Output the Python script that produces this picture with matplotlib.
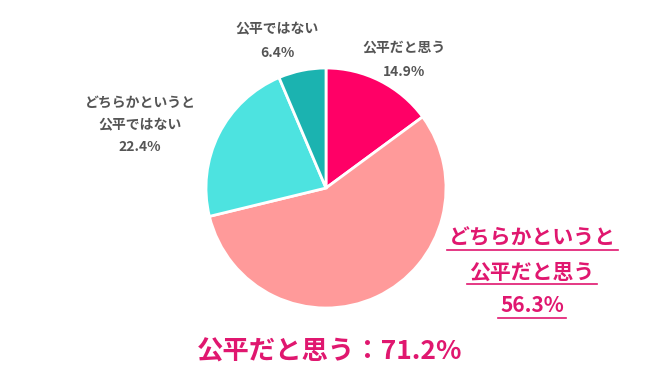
import matplotlib
matplotlib.use('Agg')
from matplotlib import pyplot as plt

plt.rcParams['font.family'] = ['Noto Sans CJK JP', 'DejaVu Sans']

# data
labels = ['公平だと思う', 'どちらかというと\n公平だと思う', 'どちらかというと\n公平ではない', '公平ではない']
values = [14.9, 56.3, 22.4, 6.4]
colors = ['#FF0066', '#FF9A9A', '#4DE3E0', '#1BB3B0']
summary = '公平だと思う：71.2%'

W, H = 650, 389
fig = plt.figure(figsize=(6.5, 3.89), dpi=100)
ax = fig.add_axes([0, 0, 1, 1])

ax.pie(values, colors=colors, startangle=90, counterclock=False,
       center=(326, H - 188), radius=120, frame=True,
       wedgeprops=dict(edgecolor='white', linewidth=2))
ax.set_xlim(0, W)
ax.set_ylim(0, H)
ax.set_aspect('equal')
ax.axis('off')

grey = '#555555'
pink = '#E0176F'

def pct(v):
    return '%.1f%%' % v

# small grey labels
fs = 10
ax.text(404, H - 48, labels[0], ha='center', va='center', fontsize=fs, fontweight='bold', color=grey)
ax.text(404, H - 72, pct(values[0]), ha='center', va='center', fontsize=fs, fontweight='bold', color=grey)
ax.text(277, H - 29, labels[3], ha='center', va='center', fontsize=fs, fontweight='bold', color=grey)
ax.text(277, H - 53, pct(values[3]), ha='center', va='center', fontsize=fs, fontweight='bold', color=grey)
for i, line in enumerate(labels[2].split('\n') + [pct(values[2])]):
    ax.text(140, H - (103 + 22 * i), line, ha='center', va='center', fontsize=fs, fontweight='bold', color=grey)

# highlighted label with underlines
big = []
for i, line in enumerate(labels[1].split('\n') + [pct(values[1])]):
    t = ax.text(532, H - (238 + 34 * i), line, ha='center', va='center', fontsize=15, fontweight='bold', color=pink)
    big.append(t)

ax.text(330, H - 352, summary, ha='center', va='center', fontsize=19, fontweight='bold', color=pink)

fig.canvas.draw()
r = fig.canvas.get_renderer()
for t in big:
    bb = t.get_window_extent(renderer=r)
    x0, x1 = bb.x0 - 2, bb.x1 + 2
    y = bb.y0 - 1
    ax.plot([x0, x1], [y, y], color=pink, linewidth=1.2)

fig.savefig('out.png', dpi=100)
